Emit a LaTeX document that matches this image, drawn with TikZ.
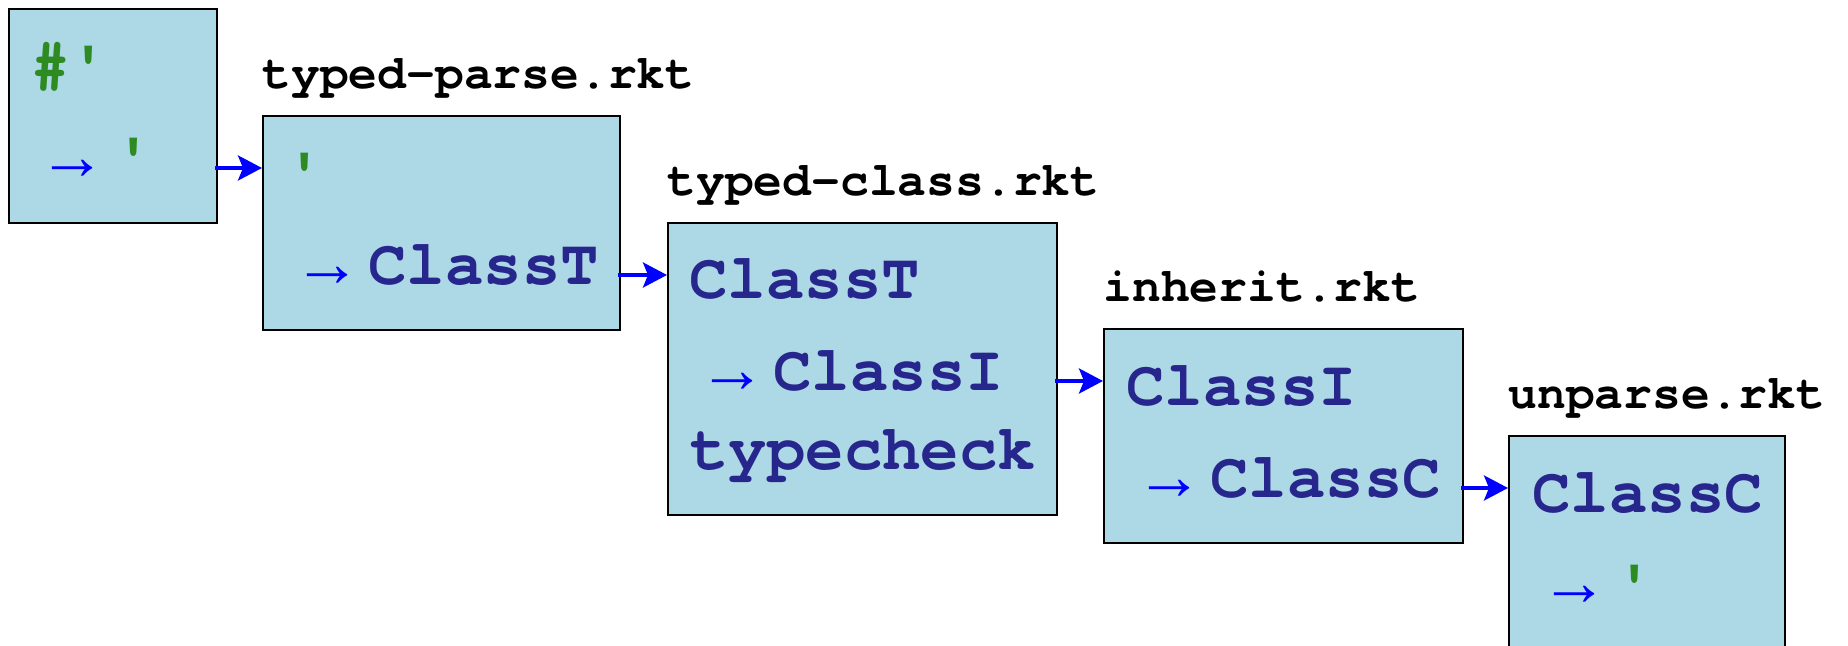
\documentclass[tikz,border=0pt]{standalone}
\usepackage{fontspec}
\usetikzlibrary{arrows.meta}
\newfontfamily\codefont{texgyrecursor}[Extension=.otf,UprightFont=*-bold,BoldFont=*-bold]
\newfontfamily\arrowfont{Liberation Serif}[BoldFont=*]

\definecolor{boxfill}{RGB}{173,216,230}
\definecolor{classblue}{RGB}{38,38,140}
\definecolor{quotegreen}{RGB}{46,139,34}
\definecolor{flowblue}{RGB}{0,0,255}

\newcommand{\sq}{\char"27\relax}
\newcommand{\mapsarrow}{\char"2192\relax}

\tikzset{
  stage/.style={draw=black, line width=1pt, fill=boxfill, rectangle,
    anchor=north west, inner sep=0pt, minimum height=107pt},
  code/.style={anchor=base west, inner sep=0pt,
    font=\codefont\fontsize{32}{38}\selectfont, text=classblue},
  quote/.style={code, text=quotegreen},
  fname/.style={anchor=base west, inner sep=0pt,
    font=\codefont\fontsize{24}{28}\selectfont, text=black},
  maps/.style={inner sep=0pt, text=flowblue, font=\arrowfont\fontsize{34}{40}\selectfont},
  conn/.style={draw=flowblue, line width=1.8pt,
    -{Stealth[length=12pt, width=12.5pt, inset=2.5pt]}},
}

\begin{document}
\begin{tikzpicture}[x=0.5pt, y=-0.5pt]
\useasboundingbox (0,0) rectangle (1848,646);

% pipeline stages
\node[stage, minimum width=104pt]   (b1) at (8,8) {};
\node[stage, minimum width=178.5pt] (b2) at (262,115) {};
\node[stage, minimum width=194.5pt, minimum height=146pt] (b3) at (667,222) {};
\node[stage, minimum width=179.5pt] (b4) at (1103,328) {};
\node[stage, minimum width=138pt]   (b5) at (1508,435) {};

% file names above the stages
\node[fname] (n2) at ([shift={(0,-26)}]b2.north west) {typed-parse.rkt};
\node[fname] (n3) at ([shift={(0,-26)}]b3.north west) {typed-class.rkt};
\node[fname] (n4) at ([shift={(0,-26)}]b4.north west) {inherit.rkt};
\node[fname] (n5) at ([shift={(0,-26)}]b5.north west) {unparse.rkt};

% stage 1: #' -> '
\node[quote] (t1a) at ([shift={(23,78)}]b1.north west) {\#\sq};
\node[maps]  (m1)  at ([shift={(65,162)}]b1.north west) {\mapsarrow};
\node[quote] (t1b) at ([shift={(106,170)}]b1.north west) {\sq};

% stage 2: ' -> ClassT
\node[quote] (t2a) at ([shift={(23,78)}]b2.north west) {\sq};
\node[maps]  (m2)  at ([shift={(65,162)}]b2.north west) {\mapsarrow};
\node[code]  (t2b) at ([shift={(106,170)}]b2.north west) {ClassT};

% stage 3: ClassT -> ClassI, typecheck
\node[code]  (t3a) at ([shift={(22,77)}]b3.north west) {ClassT};
\node[maps]  (m3)  at ([shift={(65,161)}]b3.north west) {\mapsarrow};
\node[code]  (t3b) at ([shift={(106,169)}]b3.north west) {ClassI};
\node[code]  (t3c) at ([shift={(23,248)}]b3.north west) {typecheck};

% stage 4: ClassI -> ClassC
\node[code]  (t4a) at ([shift={(23,78)}]b4.north west) {ClassI};
\node[maps]  (m4)  at ([shift={(66,162)}]b4.north west) {\mapsarrow};
\node[code]  (t4b) at ([shift={(107,170)}]b4.north west) {ClassC};

% stage 5: ClassC -> '
\node[code]  (t5a) at ([shift={(24,78)}]b5.north west) {ClassC};
\node[maps]  (m5)  at ([shift={(66,161)}]b5.north west) {\mapsarrow};
\node[quote] (t5b) at ([shift={(107,169)}]b5.north west) {\sq};

% connectors between stages
\coordinate (c2) at ([yshift=-26.5pt]b2.north west);
\coordinate (c3) at ([yshift=-26.5pt]b3.north west);
\coordinate (c4) at ([yshift=-26.5pt]b4.north west);
\coordinate (c5) at ([yshift=-26.5pt]b5.north west);
\draw[conn] (b1.east |- c2) ++(-3,0) -- (c2);
\draw[conn] (b2.east |- c3) ++(-3,0) -- (c3);
\draw[conn] (b3.east |- c4) ++(-3,0) -- (c4);
\draw[conn] (b4.east |- c5) ++(-3,0) -- (c5);
\end{tikzpicture}
\end{document}
